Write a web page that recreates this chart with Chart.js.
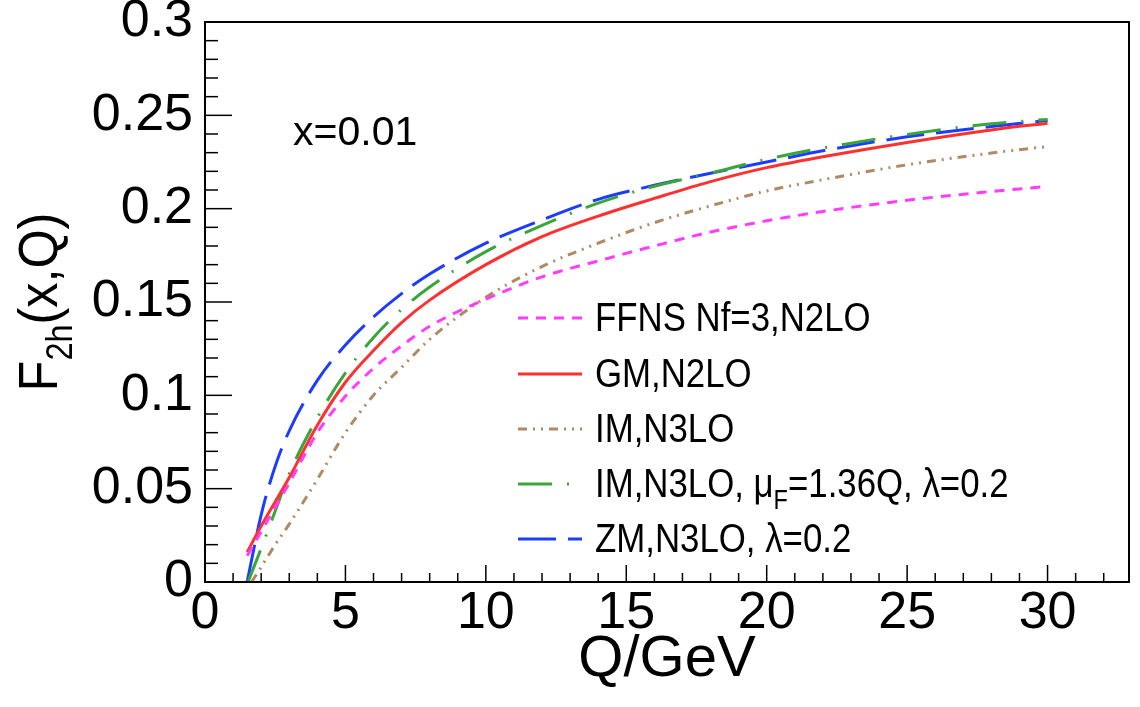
<!DOCTYPE html>
<html>
<head>
<meta charset="utf-8">
<script src="https://cdn.jsdelivr.net/npm/chart.js@4"></script>
<style>
  html, body { margin: 0; padding: 0; background: #fff; }
  #wrap { width: 1140px; height: 707px; position: relative; }
</style>
</head>
<body>
<div id="wrap"><canvas id="c"></canvas></div>
<script>
// Q grid (GeV) shared by all curves; each curve adds its own threshold point in front
const qGrid = [2, 2.5, 3, 4, 5, 6, 7, 8, 10, 12, 14, 16, 18, 20, 22, 25, 28, 30];
const qStartFFNS = 1.5;
const qStartGM = 1.5;
const qStartIM = 1.66;
const qStartIMmu = 1.53;
const qStartZM = 1.5;

// F2h(x=0.01, Q), first value belongs to the threshold point
const ffnsN2LO = [0.014, 0.027, 0.040, 0.053, 0.080, 0.0995, 0.1145, 0.1265, 0.137, 0.1515, 0.1635, 0.172, 0.180, 0.1875, 0.1935, 0.1985, 0.2045, 0.2092, 0.2119];
const gmN2LO   = [0.016, 0.030, 0.043, 0.056, 0.084, 0.107, 0.124, 0.139, 0.151, 0.170, 0.185, 0.196, 0.2055, 0.2145, 0.222, 0.2278, 0.2355, 0.2422, 0.2458];
const imN3LO   = [0.000, 0.008, 0.020, 0.031, 0.055, 0.080, 0.100, 0.115, 0.130, 0.1525, 0.169, 0.1815, 0.1925, 0.2015, 0.2095, 0.2155, 0.2235, 0.2298, 0.2333];
const imN3LOmu = [0.000, 0.018, 0.038, 0.058, 0.088, 0.112, 0.131, 0.146, 0.158, 0.177, 0.191, 0.203, 0.212, 0.219, 0.2265, 0.2325, 0.2398, 0.2455, 0.2478];
const zmN3LO   = [0.000, 0.036, 0.062, 0.081, 0.108, 0.127, 0.142, 0.1545, 0.165, 0.1815, 0.194, 0.205, 0.2125, 0.219, 0.225, 0.231, 0.2385, 0.2440, 0.2472];

const FONT = '"Liberation Sans", Arial, Helvetica, sans-serif';

function pts(q0, vals) {
  const qs = [q0].concat(qGrid);
  return vals.map((v, i) => ({ x: qs[i], y: v }));
}

const series = [
  { key: 'ffns', color: '#ff3cff', dash: [10, 8], data: pts(qStartFFNS, ffnsN2LO) },
  { key: 'gm', color: '#ff3030', dash: [], data: pts(qStartGM, gmN2LO) },
  { key: 'im', color: '#b08a62', dash: [9, 6, 2, 6, 2, 6], data: pts(qStartIM, imN3LO) },
  { key: 'immu', color: '#3aa63a', dash: [34, 15, 2, 15], data: pts(qStartIMmu, imN3LOmu) },
  { key: 'zm', color: '#1e3cff', dash: [38, 12], data: pts(qStartZM, zmN3LO) }
];

// axis frame, inward ticks, y title, legend and the x=0.01 label
const rootStyle = {
  id: 'rootStyle',
  afterDraw(chart) {
    const { ctx, chartArea: a, scales: { x, y } } = chart;
    ctx.save();
    ctx.strokeStyle = '#000';
    ctx.lineWidth = 1.5;
    for (let v = 0; v <= 32; v++) {
      const px = x.getPixelForValue(v);
      const len = v % 5 === 0 ? 17 : 9;
      ctx.beginPath(); ctx.moveTo(px, a.bottom); ctx.lineTo(px, a.bottom - len); ctx.stroke();
    }
    for (let i = 0; i <= 30; i++) {
      const py = y.getPixelForValue(i / 100);
      const len = i % 5 === 0 ? 27 : 13;
      ctx.beginPath(); ctx.moveTo(a.left, py); ctx.lineTo(a.left + len, py); ctx.stroke();
    }
    ctx.lineWidth = 2;
    ctx.strokeRect(a.left, a.top, a.right - a.left, a.bottom - a.top);

    // y title F_2h(x,Q), rotated
    ctx.fillStyle = '#000';
    ctx.translate(57, (a.top + a.bottom) / 2);
    ctx.rotate(-Math.PI / 2);
    ctx.scale(0.9, 1);
    const big = '56px ' + FONT, small = '36px ' + FONT;
    ctx.font = big; const wF = ctx.measureText('F').width; const wP = ctx.measureText('(x,Q)').width;
    ctx.font = small; const wS = ctx.measureText('2h').width;
    let cx = -(wF + wS + wP) / 2;
    ctx.textBaseline = 'alphabetic';
    ctx.font = big; ctx.fillText('F', cx, 0); cx += wF;
    ctx.font = small; ctx.fillText('2h', cx, 15); cx += wS;
    ctx.font = big; ctx.fillText('(x,Q)', cx, 0);
    ctx.restore();

    // x = 0.01
    ctx.save();
    ctx.fillStyle = '#000';
    ctx.font = '41px ' + FONT;
    ctx.textBaseline = 'middle';
    ctx.fillText('x=0.01', 293, 134);
    ctx.restore();

    // legend
    const rows = [
      [['FFNS Nf=3,N2LO', 0]],
      [['GM,N2LO', 0]],
      [['IM,N3LO', 0]],
      [['IM,N3LO, \u03bc', 0], ['F', 1], ['=1.36Q, \u03bb=0.2', 0]],
      [['ZM,N3LO, \u03bb=0.2', 0]]
    ];
    const rowY = [318, 374, 429, 484, 539];
    ctx.save();
    series.forEach((s, i) => {
      const yy = rowY[i];
      ctx.strokeStyle = s.color;
      ctx.lineWidth = 3;
      ctx.setLineDash(s.dash);
      ctx.beginPath(); ctx.moveTo(518, yy); ctx.lineTo(582, yy); ctx.stroke();
      ctx.setLineDash([]);
      ctx.save();
      ctx.translate(595, yy + 13);
      ctx.scale(0.87, 1);
      ctx.fillStyle = '#000';
      ctx.textBaseline = 'alphabetic';
      let tx = 0;
      rows[i].forEach(([t, sub]) => {
        ctx.font = (sub ? '27px ' : '40px ') + FONT;
        ctx.fillText(t, tx, sub ? 12 : 0);
        tx += ctx.measureText(t).width;
      });
      ctx.restore();
    });
    ctx.restore();
  }
};

new Chart(document.getElementById('c'), {
  type: 'line',
  data: {
    datasets: series.map(s => ({
      data: s.data,
      borderColor: s.color,
      borderWidth: 3,
      borderDash: s.dash,
      pointRadius: 0,
      fill: false,
      cubicInterpolationMode: 'monotone'
    }))
  },
  options: {
    responsive: true,
    maintainAspectRatio: false,
    animation: false,
    layout: { padding: { top: 22, right: 11, left: 0, bottom: 0 } },
    plugins: { legend: { display: false }, tooltip: { enabled: false } },
    scales: {
      x: {
        type: 'linear',
        min: 0,
        max: 32.9,
        grid: { display: false, drawTicks: false },
        border: { display: false },
        ticks: {
          stepSize: 5,
          includeBounds: false,
          autoSkip: false,
          maxRotation: 0,
          padding: 0,
          color: '#000',
          font: { family: FONT, size: 52 }
        },
        title: {
          display: true,
          text: 'Q/GeV',
          color: '#000',
          font: { family: FONT, size: 58 },
          padding: { top: 0, bottom: 12 }
        },
        afterFit(scale) {
          scale.height = 125;
          scale.paddingLeft = 0;
          scale.paddingRight = 0;
        }
      },
      y: {
        type: 'linear',
        min: 0,
        max: 0.3,
        grid: { display: false, drawTicks: false },
        border: { display: false },
        ticks: {
          stepSize: 0.05,
          autoSkip: false,
          padding: 12,
          color: '#000',
          font: { family: FONT, size: 52 },
          callback: v => String(+v.toFixed(2))
        },
        afterFit(scale) {
          scale.width = 205;
          scale.paddingTop = 0;
          scale.paddingBottom = 0;
        }
      }
    }
  },
  plugins: [rootStyle]
});
</script>
</body>
</html>
